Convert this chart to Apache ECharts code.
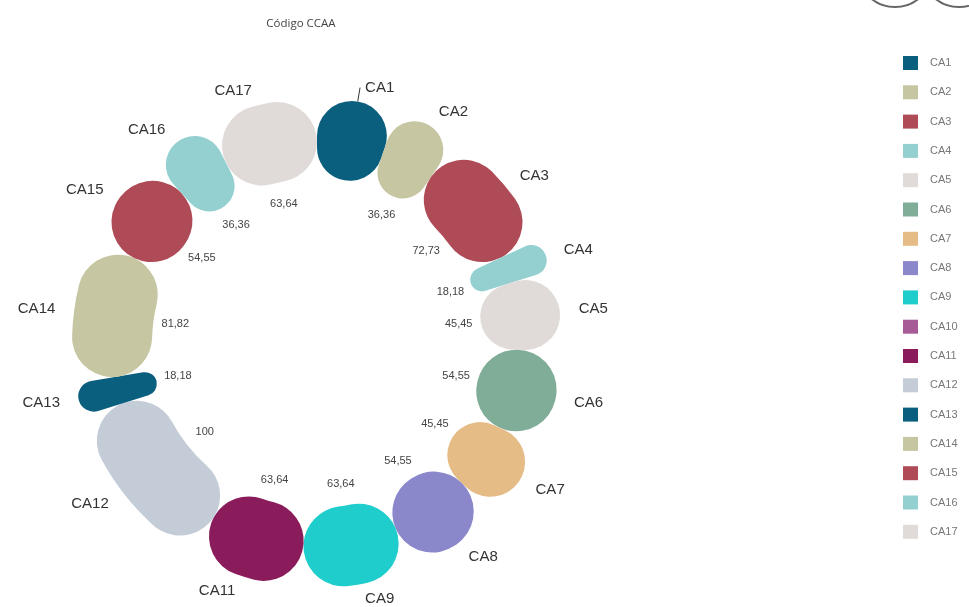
<!DOCTYPE html>
<html>
<head>
<meta charset="utf-8">
<script src="https://cdn.jsdelivr.net/npm/echarts@6/dist/echarts.min.js"></script>
<style>
  html, body { margin: 0; padding: 0; background: #fff; }
  #main { width: 969px; height: 607px; }
</style>
</head>
<body>
<div id="main"></div>
<script>
const categories = ['CA1', 'CA2', 'CA3', 'CA4', 'CA5', 'CA6', 'CA7', 'CA8', 'CA9', 'CA10', 'CA11', 'CA12', 'CA13', 'CA14', 'CA15', 'CA16', 'CA17']
const values = [45.45, 36.36, 72.73, 18.18, 45.45, 54.55, 45.45, 54.55, 63.64, 0, 63.64, 100, 18.18, 81.82, 54.55, 36.36, 63.64]
const colors = ['#0b5f7e', '#c7c6a2', '#ae4b56', '#93d0cf', '#e0dbd8', '#80ad97', '#e5bb86', '#8a87cb', '#1fcdcc', '#a65b97', '#8b1c5c', '#c3ccd7']
// CA1 has no value label in the original
const hiddenValueLabels = ['CA1']

const fmt = v => {
  if (!v) return ''
  const s = v.toFixed(2).replace('.', ',')
  return s.endsWith(',00') ? s.slice(0, -3) : s
}

const chart = echarts.init(document.getElementById('main'))

const ringData = categories.map((name, i) => ({
  name,
  value: values[i],
  labelLine: {
    show: values[i] > 0,
    lineStyle: { color: name === 'CA1' ? '#333' : 'rgba(0,0,0,0)' }
  }
}))

chart.setOption({
  color: colors,
  animation: false,
  title: {
    text: 'Código CCAA',
    left: 296,
    top: 13,
    textAlign: 'center',
    textStyle: { fontSize: 11.5, fontWeight: 'normal', color: '#444', fontFamily: 'Open Sans' }
  },
  legend: {
    orient: 'vertical',
    left: 898,
    top: 51,
    itemWidth: 15,
    itemHeight: 14,
    itemGap: 15.3,
    icon: 'rect',
    textStyle: { fontSize: 11, color: '#777', fontFamily: 'Liberation Sans', padding: [0, 0, 0, 7] },
    data: categories
  },
  graphic: [
    { type: 'circle', shape: { cx: 895, cy: -31, r: 38 }, style: { fill: 'none', stroke: '#666', lineWidth: 2 } },
    { type: 'circle', shape: { cx: 959, cy: -31, r: 38 }, style: { fill: 'none', stroke: '#666', lineWidth: 2 } }
  ],
  series: [
    {
      type: 'pie',
      center: [317, 343],
      radius: [165, 245],
      startAngle: 90,
      itemStyle: { borderRadius: 40 },
      label: {
        position: 'outside',
        formatter: p => (p.value ? p.name : ''),
        fontSize: 15,
        color: '#333',
        fontFamily: 'Liberation Sans'
      },
      labelLine: { length: 14, length2: 0 },
      emphasis: { disabled: true },
      data: ringData
    },
    {
      type: 'pie',
      silent: true,
      center: [317, 343],
      radius: [120, 160],
      startAngle: 90,
      itemStyle: { color: 'rgba(0,0,0,0)' },
      label: {
        position: 'inside',
        formatter: p => (hiddenValueLabels.includes(p.name) ? '' : fmt(p.value)),
        fontSize: 11,
        color: '#444',
        fontFamily: 'Liberation Sans'
      },
      labelLine: { show: false },
      data: categories.map((name, i) => ({ name, value: values[i] }))
    }
  ]
})
</script>
</body>
</html>
